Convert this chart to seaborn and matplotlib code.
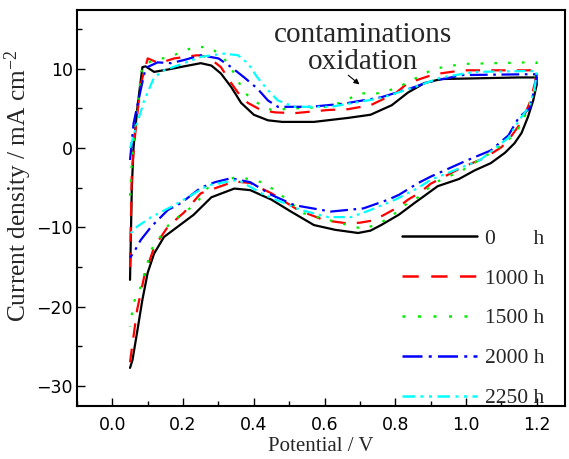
import numpy as np
import pandas as pd
import seaborn as sns
import matplotlib
matplotlib.use("Agg")
import matplotlib.pyplot as plt
from matplotlib.ticker import MultipleLocator

# ---------------- data ----------------
series_labels = ["0       h", "1000 h", "1500 h", "2000 h", "2250 h"]
series_colors = ["#000000", "#ff0000", "#00ee00", "#0000ff", "#00ffff"]

# 0 h: anodic sweep then cathodic sweep (potential in V, current in mA cm-2)
v_0h = [0.05, 0.055, 0.06, 0.071, 0.085, 0.094, 0.118, 0.157, 0.203, 0.25, 0.28, 0.307,
        0.336, 0.364, 0.40, 0.44, 0.48, 0.57, 0.666, 0.73, 0.79, 0.836, 0.883, 0.93, 1.04,
        1.15, 1.19, 1.2,
        1.2, 1.19, 1.175, 1.157, 1.137, 1.11, 1.07, 1.025, 0.98, 0.92, 0.883, 0.855, 0.81,
        0.76, 0.73, 0.695, 0.63, 0.57, 0.505, 0.45, 0.39, 0.345, 0.28, 0.23, 0.185, 0.146,
        0.118, 0.10, 0.085, 0.07, 0.057, 0.05]
i_0h = [-16.6, -5.0, 0.1, 5.2, 10.2, 10.3, 9.6, 9.9, 10.3, 10.7, 10.4, 9.4,
        7.7, 5.7, 4.2, 3.5, 3.3, 3.3, 3.8, 4.2, 5.4, 7.0, 8.2, 8.7, 8.8,
        8.9, 8.9, 8.9,
        8.0, 6.0, 3.9, 1.9, 0.6, -0.6, -1.9, -2.8, -3.9, -4.8, -6.0, -6.9, -8.4,
        -9.7, -10.4, -10.7, -10.3, -9.7, -8.0, -6.5, -5.3, -5.1, -6.2, -8.4, -9.9, -11.2,
        -13.3, -15.7, -19.1, -23.2, -26.7, -27.7]

v_1000h = [0.05, 0.055, 0.065, 0.08, 0.10, 0.132, 0.175, 0.24, 0.27, 0.307, 0.336, 0.355,
           0.383, 0.42, 0.46, 0.515, 0.61, 0.666, 0.73, 0.80, 0.836, 0.91, 0.99, 1.185, 1.2,
           1.195, 1.18, 1.157, 1.12, 1.10, 1.05, 0.99, 0.90, 0.87, 0.836, 0.81, 0.74, 0.70,
           0.666, 0.60, 0.525, 0.45, 0.39, 0.345, 0.25, 0.203, 0.157, 0.118, 0.09, 0.07,
           0.052, 0.05]
i_1000h = [-15.0, -3.0, 2.0, 8.0, 11.3, 10.7, 11.3, 11.7, 11.5, 10.2, 8.2, 7.0,
           5.7, 4.8, 4.5, 4.4, 4.8, 4.9, 5.4, 6.9, 8.2, 9.3, 9.8, 9.8, 9.6,
           8.2, 5.7, 3.3, 1.0, 0.1, -1.3, -2.4, -4.5, -5.6, -6.5, -7.4, -9.1, -9.4,
           -9.5, -9.1, -7.8, -5.7, -4.4, -4.2, -5.7, -8.1, -9.9, -12.5, -16.2, -20.4,
           -26.3, -27.0]

v_1500h = [0.05, 0.055, 0.065, 0.075, 0.085, 0.118, 0.165, 0.203, 0.24, 0.28, 0.316, 0.345,
           0.373, 0.41, 0.45, 0.515, 0.61, 0.655, 0.70, 0.75, 0.80, 0.836, 0.91, 0.99, 1.175,
           1.2,
           1.195, 1.165, 1.15, 1.12, 1.07, 0.99, 0.91, 0.865, 0.836, 0.80, 0.76, 0.71, 0.64,
           0.54, 0.477, 0.43, 0.39, 0.345, 0.27, 0.24, 0.203, 0.165, 0.11, 0.08, 0.06, 0.05]
i_1500h = [-6.0, -2.0, 3.0, 7.0, 10.4, 11.1, 11.5, 12.3, 12.8, 12.6, 11.3, 9.4,
           7.0, 5.7, 4.8, 5.0, 5.2, 5.9, 6.9, 6.9, 7.5, 8.3, 10.0, 10.6, 10.8,
           10.8,
           7.3, 3.9, 2.6, 1.0, -0.6, -2.8, -4.4, -6.2, -6.9, -8.2, -9.4, -10.2, -9.4,
           -8.2, -5.9, -4.4, -3.9, -3.7, -5.0, -6.8, -8.2, -9.3, -12.8, -17.5, -19.5, -22.5]

v_2000h = [0.05, 0.06, 0.08, 0.094, 0.128, 0.165, 0.203, 0.25, 0.30, 0.336, 0.373, 0.41,
           0.44, 0.468, 0.56, 0.655, 0.76, 0.855, 0.89, 0.99, 1.165, 1.2,
           1.195, 1.18, 1.15, 1.12, 1.07, 1.0, 0.90, 0.865, 0.81, 0.78, 0.71, 0.618, 0.515,
           0.45, 0.39, 0.335, 0.29, 0.25, 0.195, 0.157, 0.11, 0.08, 0.06, 0.05]
i_2000h = [-1.5, 3.1, 7.3, 10.1, 10.8, 10.7, 11.1, 11.7, 11.3, 10.2, 8.9, 7.5,
           6.0, 5.2, 5.2, 5.6, 6.4, 7.7, 8.3, 9.2, 9.3, 9.3,
           7.7, 5.0, 3.9, 1.6, -0.3, -1.6, -3.6, -4.4, -5.9, -6.5, -7.6, -8.0, -7.2,
           -5.9, -4.3, -3.8, -4.3, -5.0, -6.9, -7.8, -9.9, -11.6, -13.2, -13.8]

v_2250h = [0.05, 0.07, 0.09, 0.118, 0.146, 0.203, 0.25, 0.316, 0.355, 0.383, 0.41, 0.44,
           0.468, 0.515, 0.618, 0.76, 0.855, 0.93, 1.024, 1.165, 1.2,
           1.195, 1.18, 1.15, 1.12, 1.04, 0.90, 0.865, 0.80, 0.73, 0.675, 0.61, 0.533, 0.43,
           0.355, 0.27, 0.175, 0.11, 0.07, 0.05]
i_2250h = [0.0, 3.1, 6.0, 8.9, 9.8, 10.7, 11.5, 11.9, 11.7, 10.7, 8.9, 7.3,
           6.0, 5.2, 5.2, 6.3, 7.7, 8.9, 9.6, 9.7, 9.7,
           7.8, 5.3, 3.5, 1.3, -1.5, -4.0, -5.0, -6.5, -7.8, -8.7, -8.7, -7.8, -5.9,
           -4.0, -4.7, -7.2, -8.7, -9.9, -10.8]

potentials = [v_0h, v_1000h, v_1500h, v_2000h, v_2250h]
currents = [i_0h, i_1000h, i_1500h, i_2000h, i_2250h]

x_ticks = [0.0, 0.2, 0.4, 0.6, 0.8, 1.0, 1.2]
y_ticks = [-30, -20, -10, 0, 10]

# ---------------- styling ----------------
sns.set_theme(style="ticks")
plt.rcParams["font.family"] = ["DejaVu Sans"]
plt.rcParams["mathtext.fontset"] = "custom"
plt.rcParams["mathtext.rm"] = "Liberation Serif"
plt.rcParams["mathtext.it"] = "Liberation Serif:italic"

serif = ["Liberation Serif", "DejaVu Serif"]

line_styles = ["-", (0, (6.5, 5.0)), (0, (1.2, 5.0)), (0, (8, 2.5, 1.2, 2.5)),
               (0, (5, 2.2, 1.2, 2.2, 1.2, 2.2))]

fig = plt.figure(figsize=(5.69, 4.59), dpi=100)
ax = fig.add_axes([0.1353, 0.1155, 0.8577, 0.8627])

for lab, col, ls, v, i in zip(series_labels, series_colors, line_styles, potentials, currents):
    df = pd.DataFrame({"Potential": v, "Current": i})
    sns.lineplot(data=df, x="Potential", y="Current", sort=False, estimator=None,
                 color=col, linewidth=1.6, ax=ax, label=lab)
    ax.lines[-1].set_linestyle(ls)

ax.set_xlim(-0.1, 1.28)
ax.set_ylim(-32.5, 17.4)
ax.set_xticks(x_ticks)
ax.set_yticks(y_ticks)
ax.xaxis.set_minor_locator(MultipleLocator(0.1))
ax.yaxis.set_minor_locator(MultipleLocator(5))
ax.set_xticklabels([f"{t:.1f}" for t in x_ticks])
ax.tick_params(which="both", direction="in", colors="black", labelsize=12.5, width=1.0)
ax.tick_params(which="major", length=5.5)
ax.tick_params(axis="y", which="major", pad=3)
ax.tick_params(axis="x", which="major", pad=7)
ax.tick_params(which="minor", length=3.5)
for sp in ax.spines.values():
    sp.set_linewidth(1.5)
    sp.set_color("black")

ax.set_xlabel("Potential / V", family=serif, fontsize=15, labelpad=2.5)
ax.set_ylabel(r"Current density / mA cm$^{\mathrm{-2}}$", family=serif, fontsize=18.3)
ax.yaxis.set_label_coords(-0.088, 0.556)

ax.text(0.71, 12.5, "contaminations\noxidation", family=serif, fontsize=21,
        ha="center", va="center", linespacing=1.05)
ax.annotate("", xy=(0.705, 7.8), xytext=(0.661, 9.4),
            arrowprops=dict(arrowstyle="-|>", color="black", lw=0.8, mutation_scale=8))

leg = ax.legend(loc="upper left", bbox_to_anchor=(0.665, 0.448), frameon=False,
                prop={"family": serif, "size": 15.5}, handlelength=3.5, handletextpad=0.4,
                labelspacing=0.92, borderpad=0, borderaxespad=0)
for h in leg.get_lines():
    h.set_linewidth(1.8)

fig.savefig("out.png", dpi=100)
